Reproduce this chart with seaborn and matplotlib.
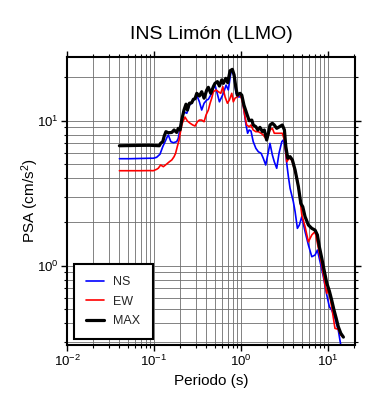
import matplotlib
matplotlib.use("Agg")
import matplotlib.pyplot as plt
import pandas as pd
import seaborn as sns
from matplotlib.ticker import NullFormatter

title = "INS Limón (LLMO)"
xlabel = "Periodo (s)"
ylabel = "PSA (cm/s$^2$)"
series_labels = ["NS", "EW", "MAX"]

period_ns = [0.040, 0.053, 0.069, 0.090, 0.098, 0.107, 0.117, 0.126, 0.134, 0.142,
             0.146, 0.156, 0.167, 0.182, 0.190, 0.199, 0.208, 0.221, 0.238, 0.255,
             0.271, 0.283, 0.296, 0.310, 0.332, 0.353, 0.376, 0.404, 0.421, 0.460,
             0.481, 0.502, 0.526, 0.564, 0.600, 0.627, 0.673, 0.714, 0.762, 0.804,
             0.832, 0.877, 0.931, 1.02, 1.08, 1.14, 1.19, 1.24, 1.30, 1.38,
             1.48, 1.58, 1.70, 1.80, 1.92, 2.06, 2.15, 2.29, 2.41, 2.57,
             2.73, 2.94, 3.06, 3.20, 3.35, 3.50, 3.66, 3.99, 4.18, 4.44,
             4.68, 4.99, 5.44, 5.94, 6.50, 7.09, 7.54, 8.09, 8.83, 9.66,
             10.35, 11.0, 12.0, 13.1, 14.3]
psa_ns = [5.47, 5.47, 5.49, 5.51, 5.51, 5.59, 5.87, 6.62, 7.17, 7.76,
          7.97, 7.17, 7.05, 7.17, 7.56, 8.86, 10.1, 11.5, 11.25, 12.8,
          13.2, 13.9, 14.0, 15.0, 13.5, 11.85, 13.2, 13.9, 14.05, 15.45,
          16.8, 17.6, 15.85, 13.5, 14.6, 15.45, 17.6, 16.3, 21.2, 22.4,
          19.6, 15.45, 14.6, 14.6, 11.85, 9.34, 8.19, 8.63, 8.49, 7.17,
          6.45, 6.11, 5.96, 5.51, 4.95, 6.11, 6.98, 5.80, 5.21, 4.70,
          5.96, 7.17, 7.36, 6.62, 5.08, 4.11, 3.42, 2.76, 2.36, 1.81,
          1.91, 2.18, 1.72, 1.39, 1.154, 1.185, 1.283, 1.066, 0.84, 0.628,
          0.521, 0.495, 0.436, 0.36, 0.262]

period_ew = [0.040, 0.053, 0.069, 0.090, 0.098, 0.107, 0.112, 0.119, 0.128, 0.140,
             0.150, 0.160, 0.170, 0.177, 0.185, 0.194, 0.203, 0.211, 0.227, 0.242,
             0.260, 0.279, 0.296, 0.315, 0.332, 0.353, 0.376, 0.396, 0.421, 0.441,
             0.460, 0.481, 0.516, 0.548, 0.585, 0.617, 0.655, 0.697, 0.735, 0.782,
             0.815, 0.853, 0.906, 0.975, 1.046, 1.11, 1.16, 1.24, 1.30, 1.38,
             1.48, 1.58, 1.70, 1.80, 1.92, 2.03, 2.15, 2.29, 2.41, 2.66,
             2.98, 3.15, 3.35, 3.56, 3.83, 4.18, 4.49, 4.77, 4.99, 5.44,
             5.94, 6.50, 7.09, 7.74, 8.47, 9.24, 9.66, 10.08, 11.0, 12.0,
             13.1, 14.0, 15.0]
psa_ew = [4.52, 4.52, 4.52, 4.53, 4.52, 4.62, 4.70, 4.95, 4.82, 5.03,
          5.21, 5.36, 5.65, 5.96, 6.62, 7.36, 8.63, 9.6, 10.6, 9.95,
          9.6, 9.34, 9.19, 9.84, 10.1, 10.1, 9.84, 10.95, 11.85, 13.2,
          14.3, 15.85, 16.3, 15.85, 15.45, 17.15, 14.6, 13.2, 13.9, 15.45,
          13.5, 14.3, 14.6, 15.45, 13.2, 10.65, 9.34, 9.09, 9.34, 8.63,
          8.40, 8.40, 8.19, 7.97, 7.56, 7.76, 8.63, 8.86, 8.19, 8.19,
          8.19, 7.36, 5.21, 5.51, 5.36, 4.45, 3.80, 2.84, 2.24, 1.86,
          1.46, 1.63, 1.72, 1.32, 1.01, 0.736, 0.645, 0.699, 0.521, 0.37,
          0.364, 0.333, 0.322]

period_max = [0.040, 0.053, 0.069, 0.090, 0.115, 0.119, 0.126, 0.131, 0.137, 0.146,
              0.160, 0.170, 0.182, 0.190, 0.199, 0.208, 0.221, 0.233, 0.242, 0.255,
              0.271, 0.283, 0.296, 0.310, 0.332, 0.353, 0.376, 0.404, 0.421, 0.449,
              0.481, 0.502, 0.535, 0.564, 0.600, 0.627, 0.667, 0.703, 0.748, 0.794,
              0.832, 0.869, 0.906, 0.975, 1.02, 1.08, 1.16, 1.24, 1.33, 1.38,
              1.48, 1.56, 1.65, 1.76, 1.85, 1.97, 2.06, 2.15, 2.29, 2.41,
              2.57, 2.73, 2.98, 3.15, 3.27, 3.44, 3.66, 3.89, 4.18, 4.56,
              4.86, 5.12, 5.44, 5.94, 6.50, 7.09, 7.54, 7.94, 8.47, 9.00,
              9.66, 10.35, 11.0, 11.7, 12.4, 13.1, 14.0, 15.0]
psa_max = [6.72, 6.74, 6.76, 6.77, 6.72, 6.98, 7.17, 7.84, 8.40, 8.26,
           8.30, 8.63, 8.30, 8.86, 8.63, 10.1, 11.85, 13.0, 11.85, 13.2,
           13.3, 14.05, 14.2, 15.45, 14.8, 15.85, 14.3, 16.3, 17.0, 15.45,
           17.2, 18.1, 18.6, 17.35, 19.1, 18.1, 19.6, 18.3, 22.1, 22.6,
           20.7, 17.15, 15.0, 15.45, 15.0, 12.8, 11.25, 10.0, 10.1, 9.34,
           9.09, 8.63, 9.0, 8.40, 8.63, 7.36, 8.19, 9.34, 9.6, 9.34,
           8.86, 9.05, 9.34, 8.63, 6.62, 5.51, 5.65, 5.36, 4.57, 3.51,
           2.69, 2.55, 2.18, 1.91, 1.81, 1.76, 1.63, 1.35, 1.125, 0.934,
           0.76, 0.669, 0.58, 0.495, 0.434, 0.38, 0.342, 0.322]

sns.set_theme(style="white")
plt.rcParams['font.family'] = ['Liberation Sans', 'DejaVu Sans']
plt.rcParams['mathtext.default'] = 'regular'

fig = plt.figure(figsize=(3.9, 4.0), dpi=100)
ax = fig.add_axes([0.1718, 0.1375, 0.7385, 0.72])

df_ns = pd.DataFrame({"period": period_ns, "psa": psa_ns})
df_ew = pd.DataFrame({"period": period_ew, "psa": psa_ew})
df_max = pd.DataFrame({"period": period_max, "psa": psa_max})

sns.lineplot(data=df_ns, x="period", y="psa", color="#0000ff", lw=1.2,
             label=series_labels[0], ax=ax, estimator=None, sort=False)
sns.lineplot(data=df_ew, x="period", y="psa", color="#ff0000", lw=1.2,
             label=series_labels[1], ax=ax, estimator=None, sort=False)
sns.lineplot(data=df_max, x="period", y="psa", color="#000000", lw=2.3,
             label=series_labels[2], ax=ax, estimator=None, sort=False)

ax.set_xscale('log')
ax.set_yscale('log')
ax.set_xlim(0.01, 20.4)
ax.set_ylim(0.284, 27.5)

ax.grid(True, which='both', color='#6e6e6e', lw=0.6)
ax.set_axisbelow(True)
ax.xaxis.set_minor_formatter(NullFormatter())
ax.yaxis.set_minor_formatter(NullFormatter())
ax.tick_params(which='both', direction='out', top=True, right=True, bottom=True, left=True,
               labeltop=False, labelright=False, colors='black')
ax.tick_params(which='major', length=4.0, width=1.0, labelsize=9.5, pad=2)
ax.tick_params(which='minor', length=2.0, width=0.8)
for s in ax.spines.values():
    s.set_linewidth(1.5)
    s.set_color('black')

ax.set_title(title, fontsize=14, pad=13, color='black')
ax.set_xlabel(xlabel, fontsize=11, labelpad=4, color='black')
ax.set_ylabel(ylabel, fontsize=11, labelpad=-3, color='black')

leg = ax.legend(loc='lower left', bbox_to_anchor=(0.024, 0.021, 0.275, 0.25), mode='expand',
                borderaxespad=0, frameon=True, fancybox=False, edgecolor='black',
                framealpha=1, fontsize=9, handlelength=1.45, handletextpad=0.7,
                labelspacing=0.6, borderpad=0.95)
leg.get_frame().set_linewidth(1.5)

fig.savefig("out.png", dpi=100)
